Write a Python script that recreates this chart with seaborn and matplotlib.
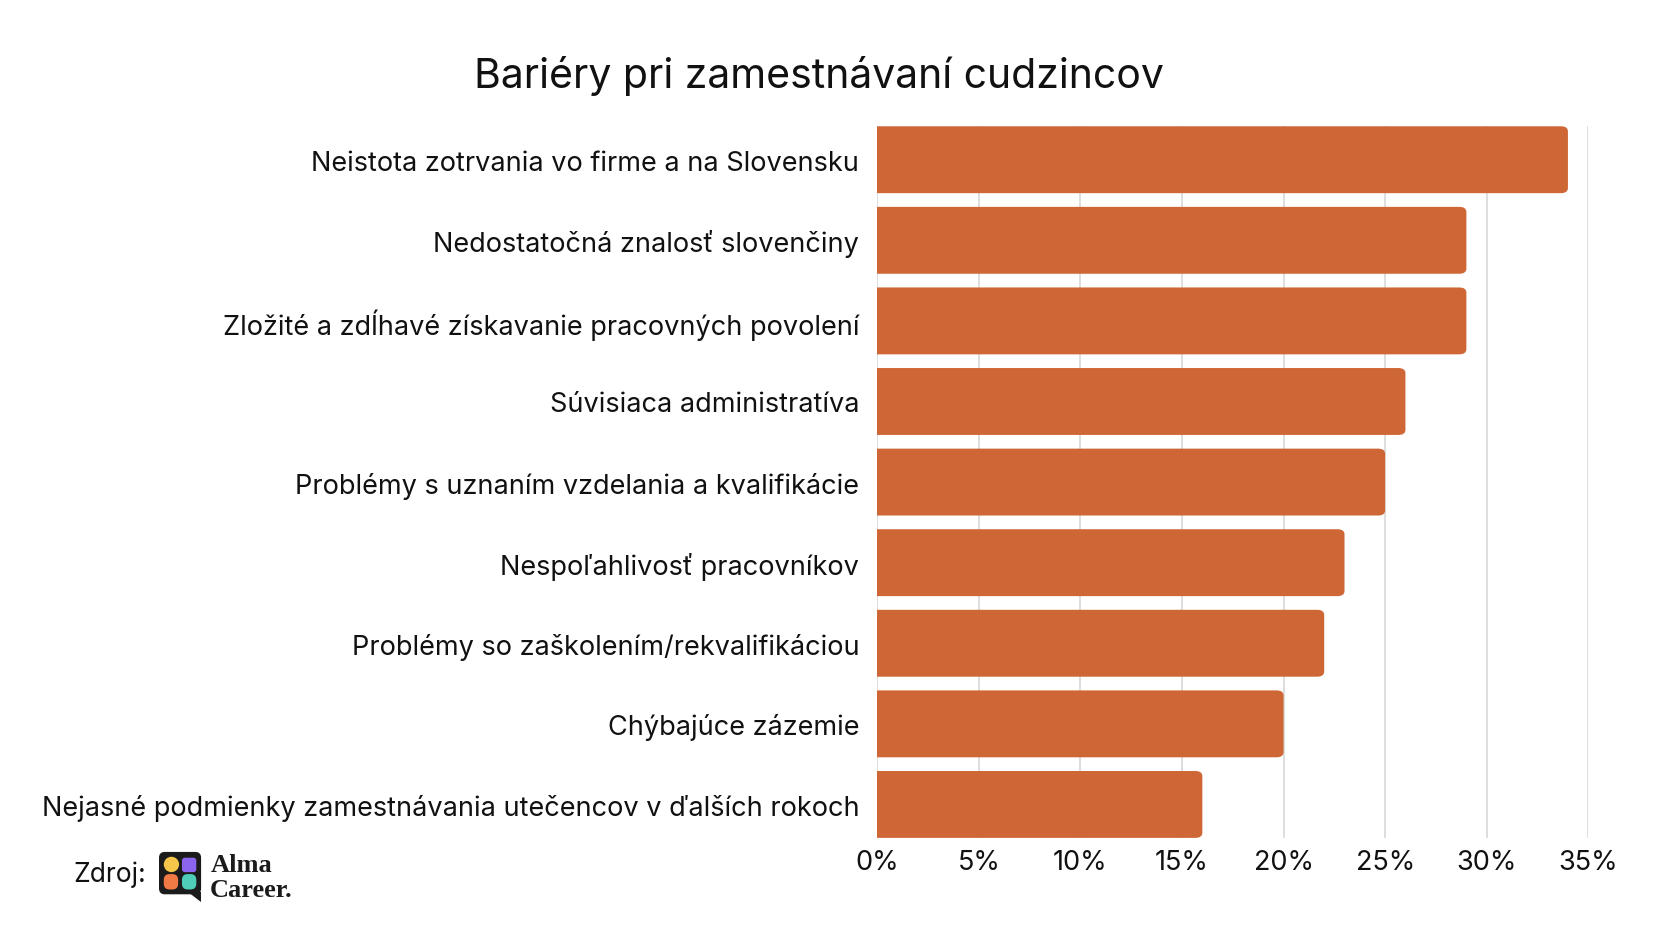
import matplotlib
matplotlib.use("Agg")
import matplotlib.pyplot as plt
import seaborn as sns
import pandas as pd
from matplotlib.patches import FancyBboxPatch, Circle, Polygon
from matplotlib.ticker import FuncFormatter

categories = [
    "Neistota zotrvania vo firme a na Slovensku",
    "Nedostatočná znalosť slovenčiny",
    "Zložité a zdĺhavé získavanie pracovných povolení",
    "Súvisiaca administratíva",
    "Problémy s uznaním vzdelania a kvalifikácie",
    "Nespoľahlivosť pracovníkov",
    "Problémy so zaškolením/rekvalifikáciou",
    "Chýbajúce zázemie",
    "Nejasné podmienky zamestnávania utečencov v ďalších rokoch",
]
values = [34, 29, 29, 26, 25, 23, 22, 20, 16]
xticks = [0, 5, 10, 15, 20, 25, 30, 35]
title = "Bariéry pri zamestnávaní cudzincov"

BAR = "#CE6636"
W = 0.83

sns.set_theme(style="white")
plt.rcParams["font.family"] = ["Inter", "DejaVu Sans"]

df = pd.DataFrame({"cat": categories, "val": values})

fig = plt.figure(figsize=(16.57, 9.29), dpi=100)
ax = fig.add_axes([0.5295, 0.097, 0.429, 0.766])

sns.barplot(data=df, x="val", y="cat", color=BAR, width=W, ax=ax, saturation=1)

# rounded right corners
for p in list(ax.patches):
    x0, y0 = p.get_x(), p.get_y()
    w, h = p.get_width(), p.get_height()
    p.set_visible(False)
    fb = FancyBboxPatch((x0 - 1, y0), w + 1, h,
                        boxstyle="round,pad=0,rounding_size=0.35",
                        mutation_aspect=1 / 5.5,
                        facecolor=BAR, edgecolor="none", zorder=3)
    ax.add_patch(fb)

ax.set_xlim(0, 35)
ax.set_ylim(len(categories) - 1 + W / 2, -W / 2)
ax.set_xticks(xticks)
ax.xaxis.set_major_formatter(FuncFormatter(lambda v, _: f"{int(v)}%"))
ax.grid(axis="x", color="#d4d4d4", linewidth=1.1, zorder=0)
ax.set_axisbelow(True)
for s in ax.spines.values():
    s.set_visible(False)
ax.set_xlabel("")
ax.set_ylabel("")
ax.tick_params(axis="both", length=0, labelsize=19.5, colors="#111111")
ax.tick_params(axis="y", pad=13)
ax.tick_params(axis="x", pad=8)

fig.text(0.4945, 0.918, title, ha="center", va="center", fontsize=29.5, color="#111111")

# Source
fig.text(0.0445, 0.058, "Zdroj:", ha="left", va="center", fontsize=19, color="#111111")

# Logo
lax = fig.add_axes([159 / 1657, 1 - 903 / 929, 44 / 1657, 52 / 929])
lax.set_xlim(0, 46)
lax.set_ylim(0, 54)
lax.axis("off")
lax.add_patch(FancyBboxPatch((0, 8), 44, 44, boxstyle="round,pad=0,rounding_size=6",
                             facecolor="#1b1b1b", edgecolor="none"))
lax.add_patch(Polygon([[30, 10], [44, 10], [44, 0]], closed=True, facecolor="#1b1b1b", edgecolor="none"))
lax.add_patch(Circle((13, 39), 8, facecolor="#F6C64A", edgecolor="none"))
lax.add_patch(FancyBboxPatch((24, 31), 15, 15, boxstyle="round,pad=0,rounding_size=3",
                             facecolor="#8B65F0", edgecolor="none"))
lax.add_patch(FancyBboxPatch((5, 13), 15, 16, boxstyle="round,pad=0,rounding_size=6",
                             facecolor="#F07A45", edgecolor="none"))
lax.add_patch(FancyBboxPatch((24, 13), 15, 16, boxstyle="round,pad=0,rounding_size=6",
                             facecolor="#4FCDB8", edgecolor="none"))

fig.text(211 / 1657, 1 - 866 / 929, "Alma", ha="left", va="center", fontsize=19,
         fontweight="bold", family=["Liberation Serif"], color="#1b1b1b")
fig.text(210 / 1657, 1 - 891 / 929, "Career.", ha="left", va="center", fontsize=19,
         fontweight="bold", family=["Liberation Serif"], color="#1b1b1b")

fig.savefig("out.png", dpi=100, facecolor="white")
